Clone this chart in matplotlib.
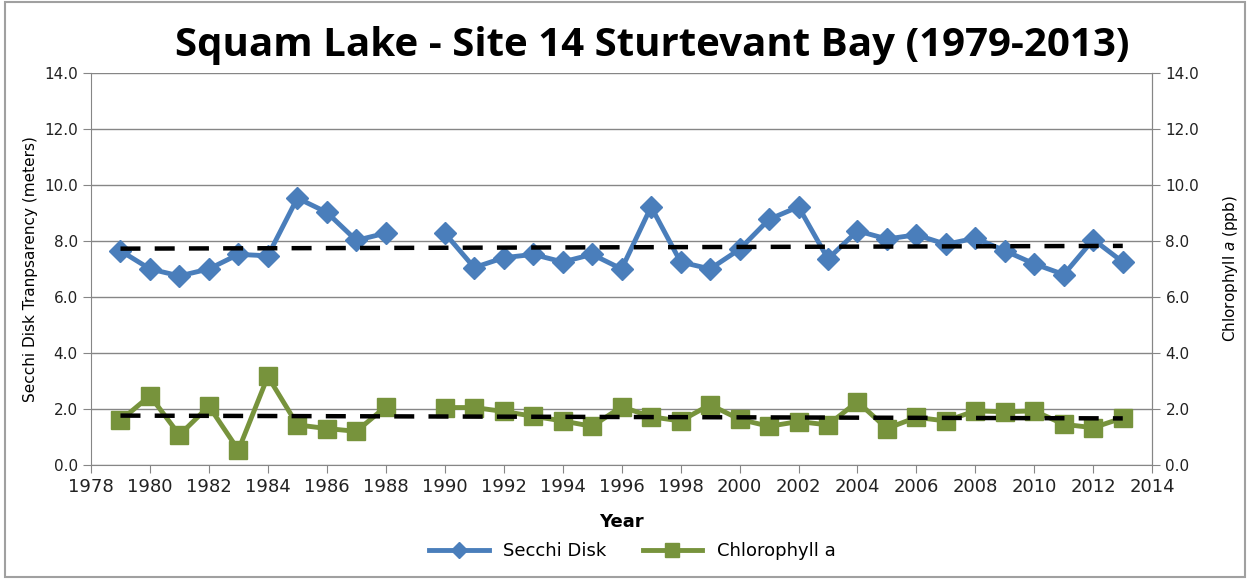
import matplotlib.pyplot as plt
import numpy as np

years = [1979, 1980, 1981, 1982, 1983, 1984, 1985, 1986, 1987, 1988,
         1990, 1991, 1992, 1993, 1994, 1995, 1996, 1997, 1998, 1999,
         2000, 2001, 2002, 2003, 2004, 2005, 2006, 2007, 2008, 2009,
         2010, 2011, 2012, 2013]
secchi = [7.65, 7.0, 6.75, 7.0, 7.52, 7.47, 9.53, 9.02, 8.02, 8.28,
          8.28, 7.05, 7.4, 7.52, 7.25, 7.52, 7.0, 9.22, 7.25, 7.0,
          7.7, 8.77, 9.22, 7.36, 8.36, 8.07, 8.22, 7.88, 8.1, 7.65,
          7.18, 6.8, 8.05, 7.25]
chlor = [1.59, 2.47, 1.07, 2.1, 0.53, 3.16, 1.43, 1.3, 1.2, 2.08,
         2.05, 2.05, 1.91, 1.74, 1.57, 1.38, 2.08, 1.72, 1.57, 2.15,
         1.63, 1.38, 1.55, 1.43, 2.26, 1.3, 1.7, 1.57, 1.93, 1.9,
         1.93, 1.45, 1.33, 1.68]

blue = '#4A7EBB'
green = '#77933C'
grid_col = '#868686'

fig = plt.figure(figsize=(12.5, 5.79), dpi=100)
ax = fig.add_axes([0.0728, 0.197, 0.849, 0.677])

# linear trendlines
yr = np.array(years)
for vals in (secchi, chlor):
    m, b = np.polyfit(yr, vals, 1)
    ax.plot([1979, 2013], [m * 1979 + b, m * 2013 + b], color='black',
            lw=3.2, ls=(0, (4.5, 3.2)), zorder=4)

# 1989 has no data, so each series is drawn in two pieces
ax.plot(years[:10], secchi[:10], color=blue, lw=3.5, marker='D', ms=11,
        zorder=3, label='Secchi Disk')
ax.plot(years[10:], secchi[10:], color=blue, lw=3.5, marker='D', ms=11, zorder=3)
ax.plot(years[:10], chlor[:10], color=green, lw=3.5, marker='s', ms=13, zorder=3,
        label='Chlorophyll a')
ax.plot(years[10:], chlor[10:], color=green, lw=3.5, marker='s', ms=13, zorder=3)

ax.set_xlim(1978, 2014)
ax.set_ylim(0, 14)
ax.set_xticks(range(1978, 2015, 2))
ax.set_yticks(np.arange(0, 14.1, 2))
ax.set_yticklabels([f'{v:.1f}' for v in np.arange(0, 14.1, 2)])
ax.grid(axis='y', color=grid_col, lw=1)
ax.set_axisbelow(True)
ax.spines['top'].set_visible(False)
for s in ('left', 'right', 'bottom'):
    ax.spines[s].set_color(grid_col)
ax.tick_params(axis='x', labelsize=13, color=grid_col, length=6, labelcolor='#222222')
ax.tick_params(axis='y', labelsize=11, color=grid_col, length=6, labelcolor='#222222')

ax2 = ax.twinx()
ax2.set_ylim(0, 14)
ax2.set_yticks(np.arange(0, 14.1, 2))
ax2.set_yticklabels([f'{v:.1f}' for v in np.arange(0, 14.1, 2)])
ax2.tick_params(axis='y', labelsize=11, color=grid_col, length=6, labelcolor='#222222')
for s in ('top', 'left', 'bottom'):
    ax2.spines[s].set_visible(False)
ax2.spines['right'].set_color(grid_col)

ax.set_ylabel('Secchi Disk Tranpsarency (meters)', fontsize=11, labelpad=4)
ax2.set_ylabel(r'Chlorophyll $\mathit{a}$ (ppb)', fontsize=11, labelpad=16)
ax.set_xlabel('Year', fontsize=13, fontweight='bold', labelpad=12)

fig.suptitle('Squam Lake - Site 14 Sturtevant Bay (1979-2013)', x=0.522, y=0.922,
             va='center', fontsize=29, fontweight='bold', family='Open Sans')

ax.legend(loc='upper center', bbox_to_anchor=(0.51, -0.155), ncol=2, frameon=False,
          fontsize=13, handlelength=3.3, columnspacing=2.0, markerscale=0.75)

fig.patches.append(plt.Rectangle((0.004, 0.003), 0.992, 0.994, transform=fig.transFigure,
                                 fill=False, edgecolor='#A0A0A0', lw=1.5))

fig.savefig('out.png', dpi=100)
